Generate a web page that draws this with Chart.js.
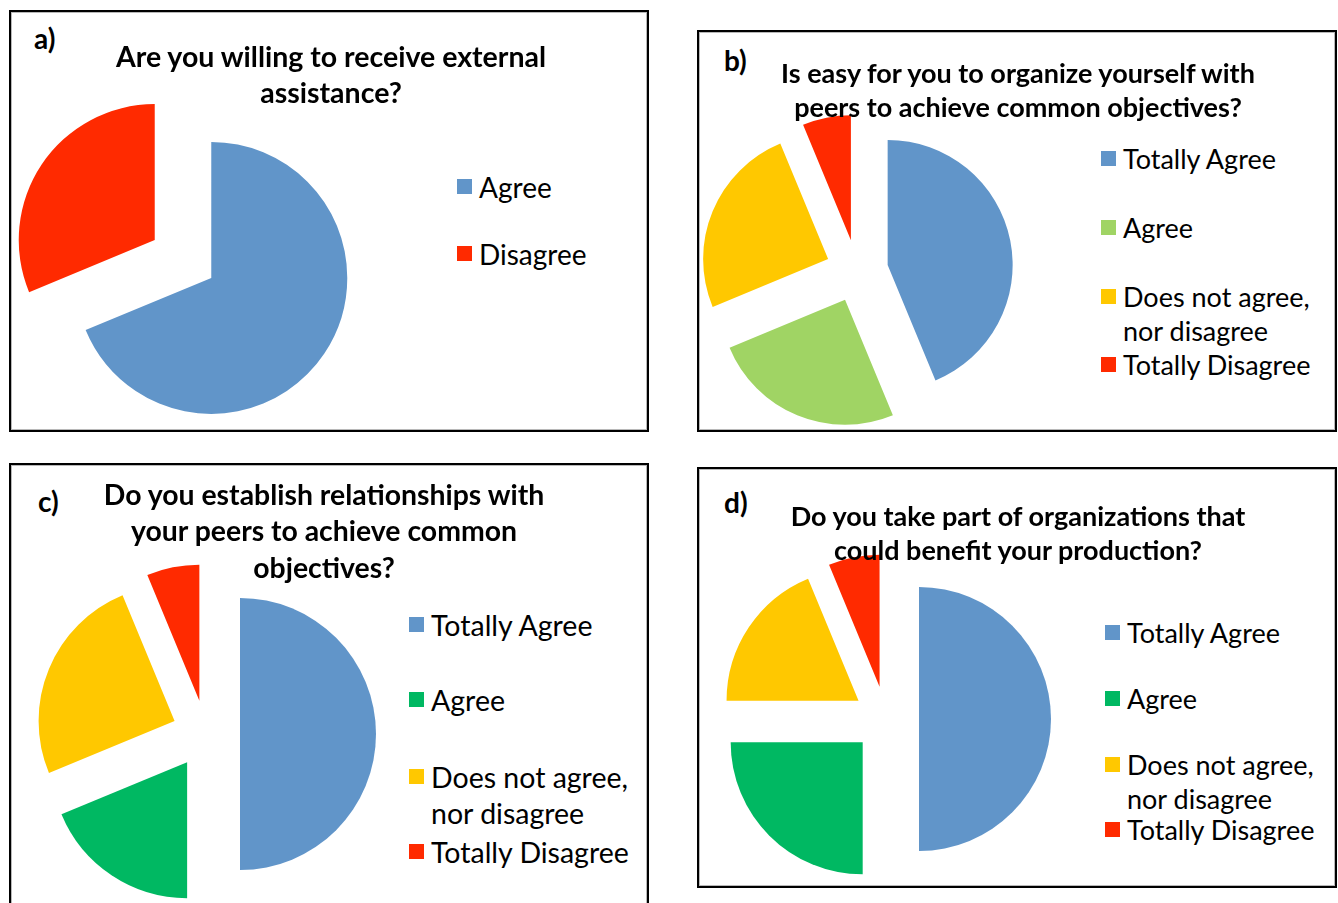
<!DOCTYPE html>
<html>
<head>
<meta charset="utf-8">
<script src="https://cdn.jsdelivr.net/npm/chart.js@4.4.1/dist/chart.umd.min.js"></script>
<style>
html, body { margin: 0; padding: 0; background: #fff; overflow: hidden; }
body { width: 1338px; height: 903px; position: relative; font-family: Lato, 'Open Sans', sans-serif; color: #000; }
.panel { position: absolute; box-sizing: border-box; border: 2px solid #000; box-shadow: inset 0 0 0 1px #b8b8b8; }
.tag { position: absolute; font-weight: bold; white-space: nowrap; }
.title { position: absolute; font-weight: bold; text-align: center; white-space: nowrap; z-index: 2; }
.leg { position: absolute; white-space: nowrap; z-index: 2; }
.sw { position: absolute; z-index: 2; }
canvas { position: absolute; z-index: 1; }
</style>
</head>
<body>
<script>
// survey answers, 16 respondents per question
const labelsA = ['Agree', 'Disagree'];
const valuesA = [11, 5];

const labelsB = ['Totally Agree', 'Agree', ['Does not agree,', 'nor disagree'], 'Totally Disagree'];
const valuesB = [7, 4, 4, 1];

const labelsC = ['Totally Agree', 'Agree', ['Does not agree,', 'nor disagree'], 'Totally Disagree'];
const valuesC = [8, 3, 4, 1];

const labelsD = ['Totally Agree', 'Agree', ['Does not agree,', 'nor disagree'], 'Totally Disagree'];
const valuesD = [8, 4, 3, 1];

const titleA = ['Are you willing to receive external', 'assistance?'];
const titleB = ['Is easy for you to organize yourself with', 'peers to achieve common objectives?'];
const titleC = ['Do you establish relationships with', 'your peers to achieve common', 'objectives?'];
const titleD = ['Do you take part of organizations that', 'could benefit your production?'];

const blue = '#6195c9';
const red = '#ff2a00';
const yellow = '#ffc800';
const lightGreen = '#a0d464';
const green = '#00b862';

// Excel-like exploded slices: push every slice out along its bisector
const explode = {
    id: 'explode',
    afterDatasetUpdate(chart, args, opts) {
        args.meta.data.forEach(arc => {
            const mid = (arc.startAngle + arc.endAngle) / 2;
            const d = arc.outerRadius * opts.ratio;
            arc.x += Math.cos(mid) * d;
            arc.y += Math.sin(mid) * d;
        });
    }
};

const panels = [
    { tag: 'a)', title: titleA, labels: labelsA, values: valuesA, colors: [blue, red],
      box: [9, 10, 649, 432], tagX: 34, tagY: 38, titleX: 331, titleY: 56, titleLH: 36, titleFont: 28.5,
      center: [183, 259], radius: 136, legX: 457, legY: [187, 254], legFont: 28, legLH: 34 },
    { tag: 'b)', title: titleB, labels: labelsB, values: valuesB, colors: [blue, lightGreen, yellow, red],
      box: [697, 30, 1337, 432], tagX: 724, tagY: 60, titleX: 1018, titleY: 73, titleLH: 34, titleFont: 27,
      center: [857, 271], radius: 125, legX: 1101, legY: [159, 228, 297, 365], legFont: 27, legLH: 34 },
    { tag: 'c)', title: titleC, labels: labelsC, values: valuesC, colors: [blue, green, yellow, red],
      box: [9, 463, 649, 910], tagX: 38, tagY: 501, titleX: 324, titleY: 494, titleLH: 36.5, titleFont: 28.4,
      center: [206, 734], radius: 136, legX: 409, legY: [625, 700, 777, 852], legFont: 28.5, legLH: 36 },
    { tag: 'd)', title: titleD, labels: labelsD, values: valuesD, colors: [blue, green, yellow, red],
      box: [697, 467, 1337, 888], tagX: 724, tagY: 502, titleX: 1018, titleY: 516, titleLH: 34, titleFont: 27,
      center: [886, 719], radius: 132, legX: 1105, legY: [633, 699, 765, 830], legFont: 27, legLH: 34 }
];

function el(tag, cls, css, text) {
    const e = document.createElement(tag);
    if (cls) e.className = cls;
    Object.assign(e.style, css);
    if (text !== undefined) e.textContent = text;
    document.body.appendChild(e);
    return e;
}

panels.forEach(p => {
    const [x0, y0, x1, y1] = p.box;
    el('div', 'panel', { left: x0 + 'px', top: y0 + 'px', width: (x1 - x0) + 'px', height: (y1 - y0) + 'px' });

    el('div', 'tag', { left: p.tagX + 'px', top: (p.tagY - 17) + 'px', fontSize: '28px', lineHeight: '34px' }, p.tag);

    const t = el('div', 'title', {
        left: (p.titleX - 300) + 'px', width: '600px',
        top: (p.titleY - p.titleLH / 2) + 'px',
        fontSize: p.titleFont + 'px', lineHeight: p.titleLH + 'px'
    });
    t.innerHTML = p.title.join('<br>');

    // legend built from the chart labels and colours
    p.labels.forEach((lab, i) => {
        const y = p.legY[i];
        el('div', 'sw', { left: p.legX + 'px', top: (y - 8) + 'px', width: '15px', height: '15px', background: p.colors[i] });
        const lines = Array.isArray(lab) ? lab : [lab];
        const l = el('div', 'leg', {
            left: (p.legX + 22) + 'px', top: (y - p.legLH / 2) + 'px',
            fontSize: p.legFont + 'px', lineHeight: p.legLH + 'px'
        });
        l.innerHTML = lines.join('<br>');
    });

    const size = 2 * Math.ceil(p.radius * 1.25) + 8;
    const cv = el('canvas', null, {
        left: (p.center[0] - size / 2) + 'px', top: (p.center[1] - size / 2) + 'px'
    });
    cv.width = size;
    cv.height = size;

    new Chart(cv, {
        type: 'pie',
        data: {
            labels: p.labels,
            datasets: [{
                data: p.values,
                backgroundColor: p.colors,
                borderWidth: 0,
                hoverOffset: 0
            }]
        },
        options: {
            responsive: false,
            animation: false,
            events: [],
            radius: p.radius,
            layout: { padding: 0 },
            plugins: {
                legend: { display: false },
                tooltip: { enabled: false },
                explode: { ratio: 0.25 }
            }
        },
        plugins: [explode]
    });
});
</script>
</body>
</html>
